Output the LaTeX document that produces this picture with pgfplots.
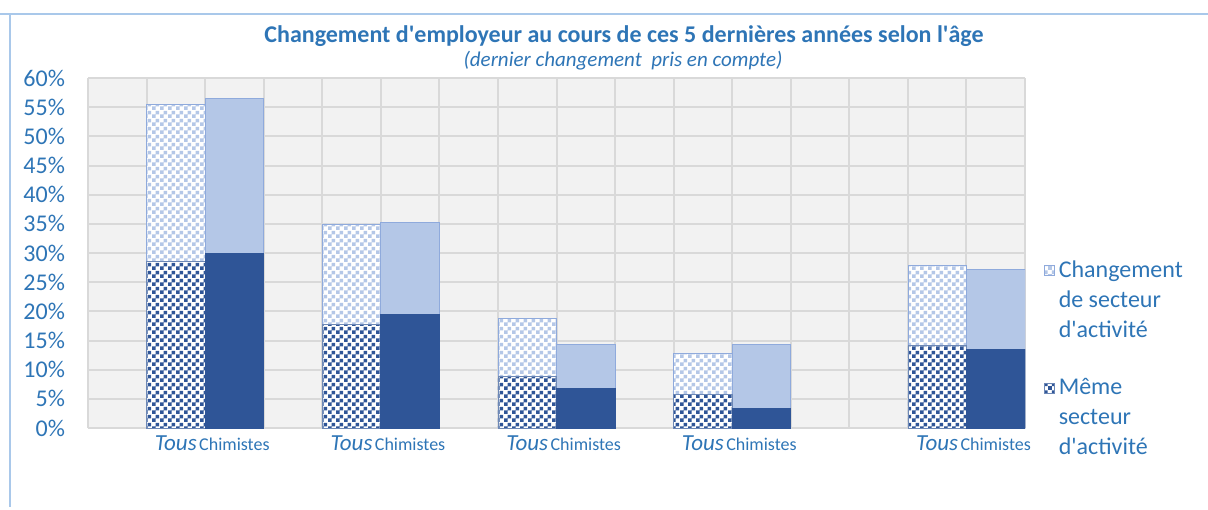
\documentclass[border=0pt]{standalone}
\usepackage{fontspec}
\setmainfont{Carlito}
\usepackage{pgfplots}
\usepackage{pgfplotstable}
\pgfplotsset{compat=1.18}
\usetikzlibrary{patterns}
\definecolor{txtblue}{HTML}{2E75B6}
\definecolor{darkbar}{HTML}{2F5597}
\definecolor{lightbar}{HTML}{B4C7E7}
\definecolor{lightedge}{HTML}{8FAADC}
\definecolor{plotbg}{HTML}{F2F2F2}
\definecolor{gridc}{HTML}{D9D9D9}
\definecolor{framec}{HTML}{A9C8EA}

% fine checkerboard, 2pt squares
\pgfdeclarepatternformonly{smallcheck}{\pgfpointorigin}{\pgfqpoint{4pt}{4pt}}{\pgfqpoint{4pt}{4pt}}{%
  \pgfpathrectangle{\pgfpointorigin}{\pgfqpoint{2.05pt}{2.05pt}}%
  \pgfpathrectangle{\pgfqpoint{2pt}{2pt}}{\pgfqpoint{2.05pt}{2.05pt}}%
  \pgfusepath{fill}}

\pgfplotsset{sqlegend/.style={legend image code/.code={\draw[##1] (0pt,12.5pt) rectangle (5pt,17.5pt);}}}

% slot index, meme secteur, changement de secteur (in %)
\pgfplotstableread{
x meme chg
1  28.6 26.9
4  17.8 17.2
7  8.9  9.9
10 5.8  7.0
14 14.1 13.8
}\tabtous
\pgfplotstableread{
x meme chg
2  30.0 26.5
5  19.4 15.9
8  6.8  7.5
11 3.3  11.0
15 13.5 13.7
}\tabchim

\newcommand{\lbltous}{{\fontsize{11.5}{13}\selectfont\itshape Tous}}

\begin{document}
\begin{tikzpicture}
\useasboundingbox (0,0) rectangle (604pt,254.5pt);
\draw[framec, line width=0.6pt] (0,247.5pt) -- (604pt,247.5pt);
\draw[framec, line width=0.6pt] (5pt,247.5pt) -- (5pt,1pt);
\node[font=\fontsize{12}{14}\selectfont\bfseries, text=txtblue] at (312pt,236.5pt)
  {Changement d\textquotesingle employeur au cours de ces 5 dernières années selon l\textquotesingle âge};
\node[font=\fontsize{10.5}{13}\selectfont\itshape, text=txtblue] at (311.5pt,224pt)
  {(dernier changement\ \ pris en compte)};
\begin{axis}[
  at={(44pt,40.5pt)}, anchor=south west,
  scale only axis, width=468.5pt, height=175pt,
  ybar, bar width=1, bar shift=0pt,
  xmin=-0.5, xmax=15.5, ymin=0, ymax=60,
  axis background/.style={fill=plotbg},
  axis line style={draw=none},
  ymajorgrids, xminorgrids,
  grid style={gridc, line width=1pt},
  minor xtick={-0.5,0.5,...,15.5},
  xtick={1,2,4,5,7,8,10,11,14,15},
  xticklabels={\lbltous,Chimistes,\lbltous,Chimistes,\lbltous,Chimistes,\lbltous,Chimistes,\lbltous,Chimistes},
  major tick length=0pt, minor tick length=0pt,
  ytick={0,5,...,60},
  yticklabel={\pgfmathprintnumber{\tick}\%},
  /pgf/number format/assume math mode=true,
  tick label style={text=txtblue},
  yticklabel style={font=\fontsize{12}{14}\selectfont, xshift=-8pt},
  xticklabel style={font=\fontsize{9}{11}\selectfont, anchor=base, yshift=-11pt},
  legend style={at={(1.02,0.49)}, anchor=north west, draw=none, fill=none,
    inner sep=0pt, font=\fontsize{12}{15}\selectfont, text=txtblue,
    cells={align=left, anchor=west}, row sep=15pt},
]
\addplot[fill=white, draw=lightedge, line width=0.3pt,
  postaction={pattern=smallcheck, pattern color=lightbar}, sqlegend]
  table[x=x, y expr=\thisrow{meme}+\thisrow{chg}] {\tabtous};
\addlegendentry{Changement\\de secteur\\d\textquotesingle activité}
\addplot[fill=lightbar, draw=lightedge, line width=0.4pt, forget plot]
  table[x=x, y expr=\thisrow{meme}+\thisrow{chg}] {\tabchim};
\addplot[fill=white, draw=darkbar!70, line width=0.3pt,
  postaction={pattern=smallcheck, pattern color=darkbar}, sqlegend]
  table[x=x, y=meme] {\tabtous};
\addlegendentry{Même\\secteur\\d\textquotesingle activité}
\addplot[fill=darkbar, draw=darkbar, line width=0.4pt, forget plot]
  table[x=x, y=meme] {\tabchim};
\end{axis}
\end{tikzpicture}
\end{document}
